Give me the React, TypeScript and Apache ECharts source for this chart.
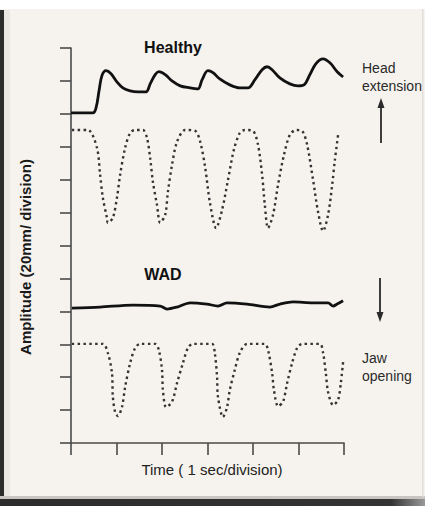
import React, { useEffect, useRef } from "react";
import * as echarts from "echarts";

// Time in seconds (1 division = 1 s), amplitude in divisions (20 mm / division)
const healthyHead: [number, number][] = [
  [0, 10.03], [0.48, 10.03], [0.55, 10.18], [0.62, 10.73], [0.68, 11.16], [0.77, 11.31],
  [0.88, 11.22], [1.01, 10.97], [1.14, 10.79], [1.3, 10.7], [1.47, 10.67], [1.65, 10.67],
  [1.74, 10.91], [1.85, 11.19], [1.93, 11.28], [2.07, 11.19], [2.22, 11.0], [2.4, 10.85],
  [2.62, 10.79], [2.79, 10.76], [2.88, 11.03], [3.01, 11.31], [3.12, 11.25], [3.27, 11.06],
  [3.49, 10.88], [3.71, 10.79], [3.89, 10.79], [4.04, 11.03], [4.2, 11.34], [4.31, 11.43],
  [4.42, 11.34], [4.59, 11.09], [4.81, 10.91], [4.99, 10.85], [5.12, 10.88], [5.25, 11.19],
  [5.38, 11.52], [5.54, 11.67], [5.69, 11.55], [5.85, 11.28], [5.98, 11.12],
];

const healthyJaw: [number, number][] = [
  [0.02, 9.51], [0.37, 9.51], [0.57, 8.97], [0.64, 8.15], [0.7, 7.45], [0.79, 6.84], [0.81, 6.69],
  [0.92, 6.84], [1.01, 7.45], [1.08, 8.15], [1.19, 8.97], [1.3, 9.42], [1.41, 9.51], [1.58, 9.51],
  [1.67, 9.27], [1.74, 8.66], [1.8, 7.93], [1.89, 7.23], [1.96, 6.69], [2.07, 6.93], [2.13, 7.63],
  [2.22, 8.45], [2.33, 9.15], [2.51, 9.51], [2.73, 9.48], [2.84, 9.15], [2.95, 8.36], [3.05, 7.33],
  [3.19, 6.53], [3.32, 7.08], [3.45, 7.99], [3.58, 8.91], [3.71, 9.42], [3.82, 9.51], [4.0, 9.48],
  [4.11, 9.06], [4.2, 8.15], [4.26, 7.23], [4.33, 6.53], [4.44, 6.93], [4.55, 7.84], [4.68, 8.75],
  [4.81, 9.36], [4.95, 9.51], [5.08, 9.48], [5.19, 9.06], [5.32, 7.99], [5.43, 7.02], [5.54, 6.44],
  [5.65, 6.93], [5.74, 7.84], [5.8, 8.6], [5.87, 9.36],
];

const wadHead: [number, number][] = [
  [0.02, 4.1], [0.64, 4.13], [1.36, 4.19], [1.96, 4.16], [2.11, 4.07], [2.33, 4.13], [2.62, 4.26],
  [2.99, 4.22], [3.23, 4.16], [3.43, 4.26], [3.87, 4.22], [4.37, 4.13], [4.59, 4.22], [4.88, 4.29],
  [5.32, 4.26], [5.65, 4.26], [5.76, 4.16], [5.85, 4.22], [5.98, 4.32],
];

const wadJaw: [number, number][] = [
  [0.02, 3.01], [0.7, 3.01], [0.81, 2.74], [0.9, 2.13], [0.92, 1.4], [0.97, 0.94], [1.03, 0.82],
  [1.12, 1.09], [1.19, 1.7], [1.3, 2.43], [1.41, 2.89], [1.52, 3.01], [1.85, 3.01], [1.93, 2.83],
  [2.0, 2.22], [2.02, 1.61], [2.09, 1.09], [2.22, 1.25], [2.33, 1.82], [2.46, 2.43], [2.57, 2.89],
  [2.68, 3.01], [3.1, 3.01], [3.16, 2.74], [3.21, 2.01], [3.23, 1.4], [3.34, 0.79], [3.43, 1.09],
  [3.49, 1.61], [3.6, 2.22], [3.71, 2.74], [3.87, 3.01], [4.26, 3.01], [4.33, 2.83], [4.42, 2.13],
  [4.46, 1.61], [4.55, 1.12], [4.66, 1.25], [4.75, 1.82], [4.86, 2.43], [4.97, 2.89], [5.08, 3.01],
  [5.47, 3.01], [5.54, 2.74], [5.6, 2.13], [5.65, 1.55], [5.76, 1.15], [5.87, 1.31], [5.93, 1.82],
  [5.98, 2.46],
];

const groupLabels = ["Healthy", "WAD"];
const motionLabels = ["Head", "extension", "Jaw", "opening"];
const yAxisTitle = "Amplitude (20mm/ division)";
const xAxisTitle = "Time ( 1 sec/division)";
const xMax = 6;
const yMax = 12;

const FONT = "'Liberation Sans', Arial, Helvetica, sans-serif";

export default function App() {
  const ref = useRef<HTMLDivElement>(null);
  useEffect(() => {
    if (!ref.current) return;
    const chart = echarts.init(ref.current, null, { renderer: "svg" });
    const solid = { color: "#111111", width: 2.8 };
    const dotted = { color: "#333333", width: 2.4, type: [2.4, 3.4], cap: "butt" as const };
    chart.setOption({
      animation: false,
      backgroundColor: "#ffffff",
      grid: { left: 71, right: 81, top: 48, bottom: 63, containLabel: false },
      xAxis: {
        type: "value",
        min: 0,
        max: xMax,
        interval: 1,
        axisLine: { show: true, onZero: false, lineStyle: { color: "#4a4a4a", width: 1.6 } },
        axisTick: { show: true, inside: false, length: 12, lineStyle: { color: "#4a4a4a", width: 1.6 } },
        axisLabel: { show: false },
        splitLine: { show: false },
      },
      yAxis: {
        type: "value",
        min: 0,
        max: yMax,
        interval: 1,
        axisLine: { show: true, onZero: false, lineStyle: { color: "#4a4a4a", width: 1.6 } },
        axisTick: { show: true, inside: false, length: 11, lineStyle: { color: "#4a4a4a", width: 1.6 } },
        axisLabel: { show: false },
        splitLine: { show: false },
      },
      graphic: [
        // page frame
        { type: "rect", z: -10, silent: true, shape: { x: 0, y: 9, width: 425, height: 490 }, style: { fill: "#f6f3ee" } },
        { type: "rect", z: -9, silent: true, shape: { x: 4, y: 10, width: 6, height: 489 }, style: { fill: "#ebe8e3" } },
        { type: "rect", z: -9, silent: true, shape: { x: 0, y: 10, width: 4, height: 496 }, style: { fill: "#2c2c2c" } },
        { type: "rect", z: -9, silent: true, shape: { x: 0, y: 496, width: 425, height: 3 }, style: { fill: "#c9c6c2" } },
        {
          type: "rect", z: -9, silent: true, shape: { x: 0, y: 499, width: 425, height: 7 },
          style: {
            fill: new echarts.graphic.LinearGradient(0, 0, 1, 0, [
              { offset: 0, color: "#2c2c2c" },
              { offset: 0.92, color: "#333333" },
              { offset: 1, color: "#9a9a9a" },
            ]),
          },
        },
        { type: "rect", z: -9, silent: true, shape: { x: 422, y: 9, width: 1.5, height: 488 }, style: { fill: "#e2dfdb" } },
        // group titles
        { type: "text", x: 173, y: 47, style: { text: groupLabels[0], font: `bold 16px ${FONT}`, fill: "#111", align: "center", verticalAlign: "middle" } },
        { type: "text", x: 163, y: 274, style: { text: groupLabels[1], font: `bold 16px ${FONT}`, fill: "#111", align: "center", verticalAlign: "middle" } },
        // motion labels
        { type: "text", x: 362, y: 68, style: { text: motionLabels[0], font: `14px ${FONT}`, fill: "#2a2a2a", align: "left", verticalAlign: "middle" } },
        { type: "text", x: 362, y: 86, style: { text: motionLabels[1], font: `14px ${FONT}`, fill: "#2a2a2a", align: "left", verticalAlign: "middle" } },
        { type: "text", x: 362, y: 358, style: { text: motionLabels[2], font: `14px ${FONT}`, fill: "#2a2a2a", align: "left", verticalAlign: "middle" } },
        { type: "text", x: 362, y: 376, style: { text: motionLabels[3], font: `14px ${FONT}`, fill: "#2a2a2a", align: "left", verticalAlign: "middle" } },
        // arrows
        { type: "line", shape: { x1: 381, y1: 143, x2: 381, y2: 106 }, style: { stroke: "#2a2a2a", lineWidth: 1.8 } },
        { type: "polygon", shape: { points: [[381, 98], [377.5, 108], [384.5, 108]] }, style: { fill: "#2a2a2a" } },
        { type: "line", shape: { x1: 380, y1: 278, x2: 380, y2: 314 }, style: { stroke: "#2a2a2a", lineWidth: 1.8 } },
        { type: "polygon", shape: { points: [[380, 322], [376.5, 312], [383.5, 312]] }, style: { fill: "#2a2a2a" } },
        // axis titles
        { type: "text", x: 25, y: 257, rotation: Math.PI / 2, style: { text: yAxisTitle, font: `bold 15px ${FONT}`, fill: "#1a1a1a", align: "center", verticalAlign: "middle" } },
        { type: "text", x: 212, y: 469, style: { text: xAxisTitle, font: `15px ${FONT}`, fill: "#222", align: "center", verticalAlign: "middle" } },
      ],
      series: [
        { name: "Healthy head", type: "line", data: healthyHead, showSymbol: false, smooth: 0.35, lineStyle: solid, z: 3 },
        { name: "Healthy jaw", type: "line", data: healthyJaw, showSymbol: false, smooth: 0.3, lineStyle: dotted, z: 3 },
        { name: "WAD head", type: "line", data: wadHead, showSymbol: false, smooth: 0.3, lineStyle: solid, z: 3 },
        { name: "WAD jaw", type: "line", data: wadJaw, showSymbol: false, smooth: 0.3, lineStyle: dotted, z: 3 },
      ],
    });
    return () => chart.dispose();
  }, []);
  return (
    <div
      ref={ref}
      style={{ position: "absolute", left: 0, top: 0, width: 425, height: 506 }}
    />
  );
}
